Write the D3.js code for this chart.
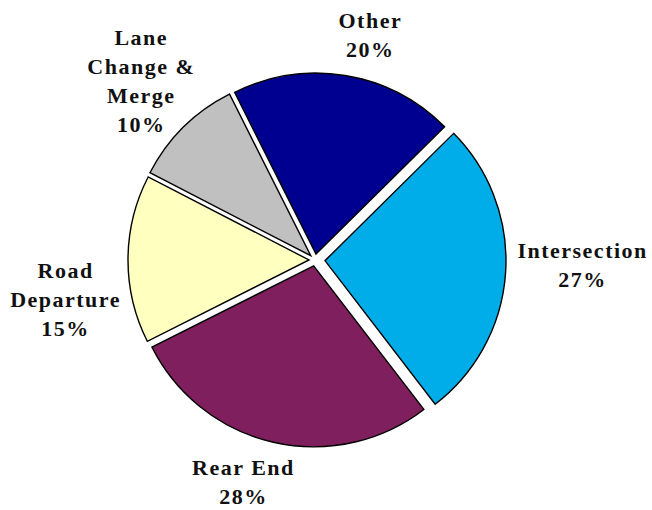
<!DOCTYPE html>
<html>
<head>
<meta charset="utf-8">
<script src="https://cdn.jsdelivr.net/npm/d3@7"></script>
<style>
  body { margin: 0; background: #fff; }
</style>
</head>
<body>
<div id="chart"></div>
<script>
// data
const categories = ["Other", "Intersection", "Rear End", "Road Departure", "Lane Change & Merge"];
const shares = [20, 27, 28, 15, 10];
const labelLines = [["Other"], ["Intersection"], ["Rear End"], ["Road", "Departure"], ["Lane", "Change &", "Merge"]];
const colors = ["#000090", "#00ADE8", "#7F1F5E", "#FFFFC0", "#C0C0C0"];

const W = 652, H = 510;
const cx = 315, cy = 260, radius = 181;
const lineH = 29, capH = 15;

const svg = d3.select("#chart").append("svg")
    .attr("width", W)
    .attr("height", H);

const rows = categories.map((c, i) => ({ cat: c, value: shares[i], lines: labelLines[i], color: colors[i] }));

const start = -26.7 * Math.PI / 180;
const pie = d3.pie()
    .sort(null)
    .value(d => d.value)
    .startAngle(start)
    .endAngle(start + 2 * Math.PI);

const arc = d3.arc().innerRadius(0).outerRadius(radius);

// pulled out slice
const explode = d => d.data.cat === "Intersection" ? 10 : 6;
const mid = d => (d.startAngle + d.endAngle) / 2;

const arcs = pie(rows);

const g = svg.append("g").attr("transform", `translate(${cx},${cy})`);

g.selectAll("path")
    .data(arcs)
    .enter().append("path")
    .attr("d", arc)
    .attr("transform", d => {
      const m = mid(d), e = explode(d);
      return `translate(${Math.sin(m) * e},${-Math.cos(m) * e})`;
    })
    .attr("fill", d => d.data.color)
    .attr("stroke", "#000")
    .attr("stroke-width", 1.4);

// label nudges so they sit like the original
const nudge = {
  "Other": [19, -13],
  "Intersection": [6, -10],
  "Rear End": [-17, 12],
  "Road Departure": [-1, 41],
  "Lane Change & Merge": [0, -6]
};

arcs.forEach(d => {
  const lines = d.data.lines.concat([d.data.value + "%"]);
  const m = mid(d);
  const R = radius + explode(d) + 6;

  const t = svg.append("text")
      .attr("text-anchor", "middle")
      .attr("font-family", "'Liberation Serif', serif")
      .attr("font-weight", 700)
      .attr("font-size", 22)
      .attr("letter-spacing", 1.5)
      .attr("fill", "#111");
  lines.forEach(l => t.append("tspan").text(l));
  // width of the widest line
  let w = 0;
  t.selectAll("tspan").each(function() { w = Math.max(w, this.getComputedTextLength()); });
  const h = (lines.length - 1) * lineH + capH;

  const nx = nudge[d.data.cat][0], ny = nudge[d.data.cat][1];
  const bx = cx + R * Math.sin(m) + Math.sin(m) * w / 2 + nx;
  const by = cy - R * Math.cos(m) - Math.cos(m) * h / 2 + ny;

  t.selectAll("tspan")
    .attr("x", bx)
    .attr("y", (l, i) => by - h / 2 + capH + i * lineH);
});
</script>
</body>
</html>
